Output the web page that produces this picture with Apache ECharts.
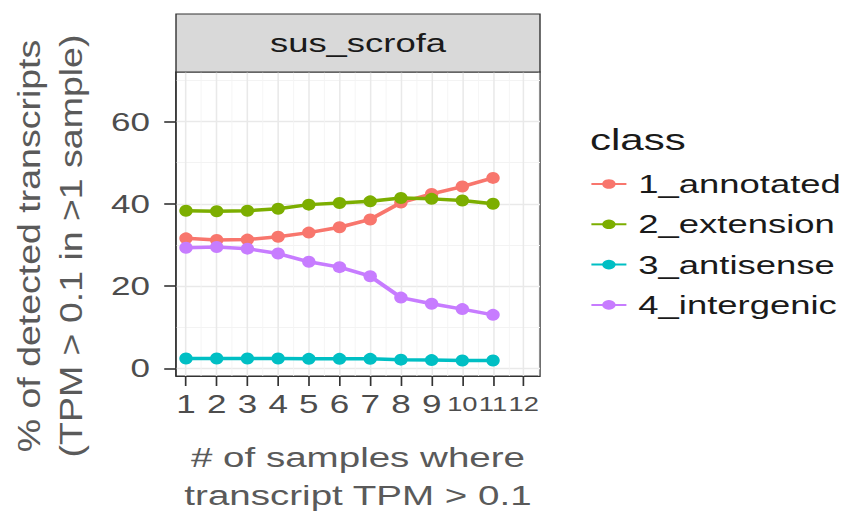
<!DOCTYPE html>
<html>
<head>
<meta charset="utf-8">
<script src="https://cdn.jsdelivr.net/npm/echarts@6/dist/echarts.min.js"></script>
<style>
  html, body { margin: 0; padding: 0; background: #ffffff; overflow: hidden; }
  #wrap { width: 852px; height: 520px; overflow: hidden; }
  #chart { width: 608px; height: 520px; transform-origin: 0 0; }
</style>
</head>
<body>
<div id="wrap"><div id="chart"></div></div>
<script>
// ---- data ----
const xValues = [1, 2, 3, 4, 5, 6, 7, 8, 9, 10, 11];
const xTicks = [1, 2, 3, 4, 5, 6, 7, 8, 9, 10, 11, 12];
const xMinorTicks = [1.5, 2.5, 3.5, 4.5, 5.5, 6.5, 7.5, 8.5, 9.5, 10.5, 11.5, 12.5];
const yTicks = [0, 20, 40, 60];
const yMinorTicks = [10, 30, 50, 70];
const classNames = ['1_annotated', '2_extension', '3_antisense', '4_intergenic'];
const annotated = [31.6, 31.2, 31.3, 32.0, 33.0, 34.3, 36.2, 40.3, 42.4, 44.2, 46.3];
const extension = [38.3, 38.2, 38.3, 38.8, 39.8, 40.2, 40.6, 41.4, 41.2, 40.8, 40.0];
const antisense = [2.4, 2.4, 2.4, 2.4, 2.3, 2.3, 2.3, 2.1, 2.0, 1.9, 1.9];
const intergenic = [29.3, 29.5, 29.1, 27.9, 25.9, 24.6, 22.4, 17.2, 15.7, 14.4, 13.0];
const stripLabel = 'sus_scrofa';
const legendTitle = 'class';
const xTitle = '# of samples where\ntranscript TPM > 0.1';
const yTitle1 = '% of detected transcripts';
const yTitle2 = '(TPM > 0.1 in >1 sample)';

// ---- layout (reference is horizontally stretched; chart drawn narrow then scaled) ----
const W0 = 608;
const S = 852 / W0;
document.getElementById('chart').style.transform = 'scaleX(' + S + ')';
const ux = v => v / S;
const FONT = '"Liberation Sans", Arial, Helvetica, sans-serif';
const colors = ['#F8766D', '#7CAE00', '#00BFC4', '#C77CFF'];
const seriesValues = [annotated, extension, antisense, intergenic];

const panelL = ux(176), panelR = ux(540), panelT = 72, panelB = 377;

const chart = echarts.init(document.getElementById('chart'), null, { renderer: 'svg', width: W0, height: 520 });

const series = classNames.map((name, i) => ({
  name: name,
  type: 'line',
  xAxisIndex: 0,
  yAxisIndex: 0,
  data: xValues.map((x, j) => [x, seriesValues[i][j]]),
  symbol: 'circle',
  symbolSize: [9.6, 12],
  lineStyle: { width: 3.5, color: colors[i] },
  itemStyle: { color: colors[i] },
  z: 3
}));

const option = {
  animation: false,
  backgroundColor: '#ffffff',
  color: colors,
  grid: {
    left: panelL, top: panelT, width: panelR - panelL, height: panelB - panelT,
    show: true, backgroundColor: '#ffffff', borderColor: '#333333', borderWidth: 1,
    containLabel: false
  },
  xAxis: [
    {
      type: 'value', min: 0.674, max: 12.53, position: 'bottom',
      axisLine: { show: true, onZero: false, lineStyle: { color: '#333333', width: 1 } },
      axisTick: { show: true, customValues: xTicks, length: 10, lineStyle: { color: '#333333', width: 1.2 } },
      axisLabel: {
        show: true, customValues: xTicks, hideOverlap: false, margin: 15,
        fontSize: 25, fontFamily: FONT, color: '#4d4d4d',
        formatter: v => (v >= 10 ? '{s|' + v + '}' : String(v)),
        rich: { s: { fontSize: 19.5, fontFamily: FONT, color: '#4d4d4d', padding: [3, 0, 0, 0] } }
      },
      splitLine: { show: true, lineStyle: { color: '#e9e9e9', width: 1.1 } },
      name: xTitle, nameLocation: 'middle', nameGap: 63,
      nameTextStyle: { fontSize: 27.5, lineHeight: 38, fontFamily: FONT, color: '#5a5a5a' }
    },
    {
      type: 'value', min: 0.674, max: 12.53, position: 'top',
      axisLine: { show: false, onZero: false },
      axisTick: { show: false, customValues: xMinorTicks },
      axisLabel: { show: false, customValues: xMinorTicks },
      splitLine: { show: true, lineStyle: { color: '#f3f3f3', width: 0.7 } }
    }
  ],
  yAxis: [
    {
      type: 'value', min: -1.87, max: 72.05, position: 'left',
      axisLine: { show: true, onZero: false, lineStyle: { color: '#333333', width: 1 } },
      axisTick: { show: true, customValues: yTicks, length: 8.4, lineStyle: { color: '#333333', width: 1.6 } },
      axisLabel: { show: true, customValues: yTicks, margin: 18.6, fontSize: 25, fontFamily: FONT, color: '#4d4d4d' },
      splitLine: { show: true, lineStyle: { color: '#e9e9e9', width: 1.4 } }
    },
    {
      type: 'value', min: -1.87, max: 72.05, position: 'right',
      axisLine: { show: false, onZero: false },
      axisTick: { show: false, customValues: yMinorTicks },
      axisLabel: { show: false, customValues: yMinorTicks },
      splitLine: { show: true, lineStyle: { color: '#f3f3f3', width: 0.8 } }
    }
  ],
  legend: {
    data: classNames,
    orient: 'vertical',
    left: ux(590), top: 171,
    padding: 0,
    itemWidth: ux(35), itemHeight: 12, itemGap: 14.3,
    textStyle: { fontSize: 26, lineHeight: 26, fontFamily: FONT, color: '#1a1a1a', padding: [0, 0, 0, 3.5] }
  },
  graphic: [
    {
      type: 'rect', z: 10,
      shape: { x: panelL, y: 14, width: panelR - panelL, height: panelT - 14 },
      style: { fill: '#d9d9d9', stroke: '#333333', lineWidth: 1 }
    },
    {
      type: 'text', z: 11, x: ux(358), y: 43,
      style: { text: stripLabel, fontSize: 26, fontFamily: FONT, fill: '#1a1a1a', align: 'center', verticalAlign: 'middle' }
    },
    {
      type: 'text', z: 11, x: ux(590), y: 140,
      style: { text: legendTitle, fontSize: 30, fontFamily: FONT, fill: '#1a1a1a', align: 'left', verticalAlign: 'middle' }
    },
    {
      type: 'text', z: 11, x: ux(29), y: 246, rotation: Math.PI / 2, scaleY: 0.6,
      style: { text: yTitle1, fontSize: 37.5, fontFamily: FONT, fill: '#5a5a5a', align: 'center', verticalAlign: 'middle' }
    },
    {
      type: 'text', z: 11, x: ux(71.5), y: 246, rotation: Math.PI / 2, scaleY: 0.6,
      style: { text: yTitle2, fontSize: 37.5, fontFamily: FONT, fill: '#5a5a5a', align: 'center', verticalAlign: 'middle' }
    }
  ],
  series: series
};
chart.setOption(option);
</script>
</body>
</html>
